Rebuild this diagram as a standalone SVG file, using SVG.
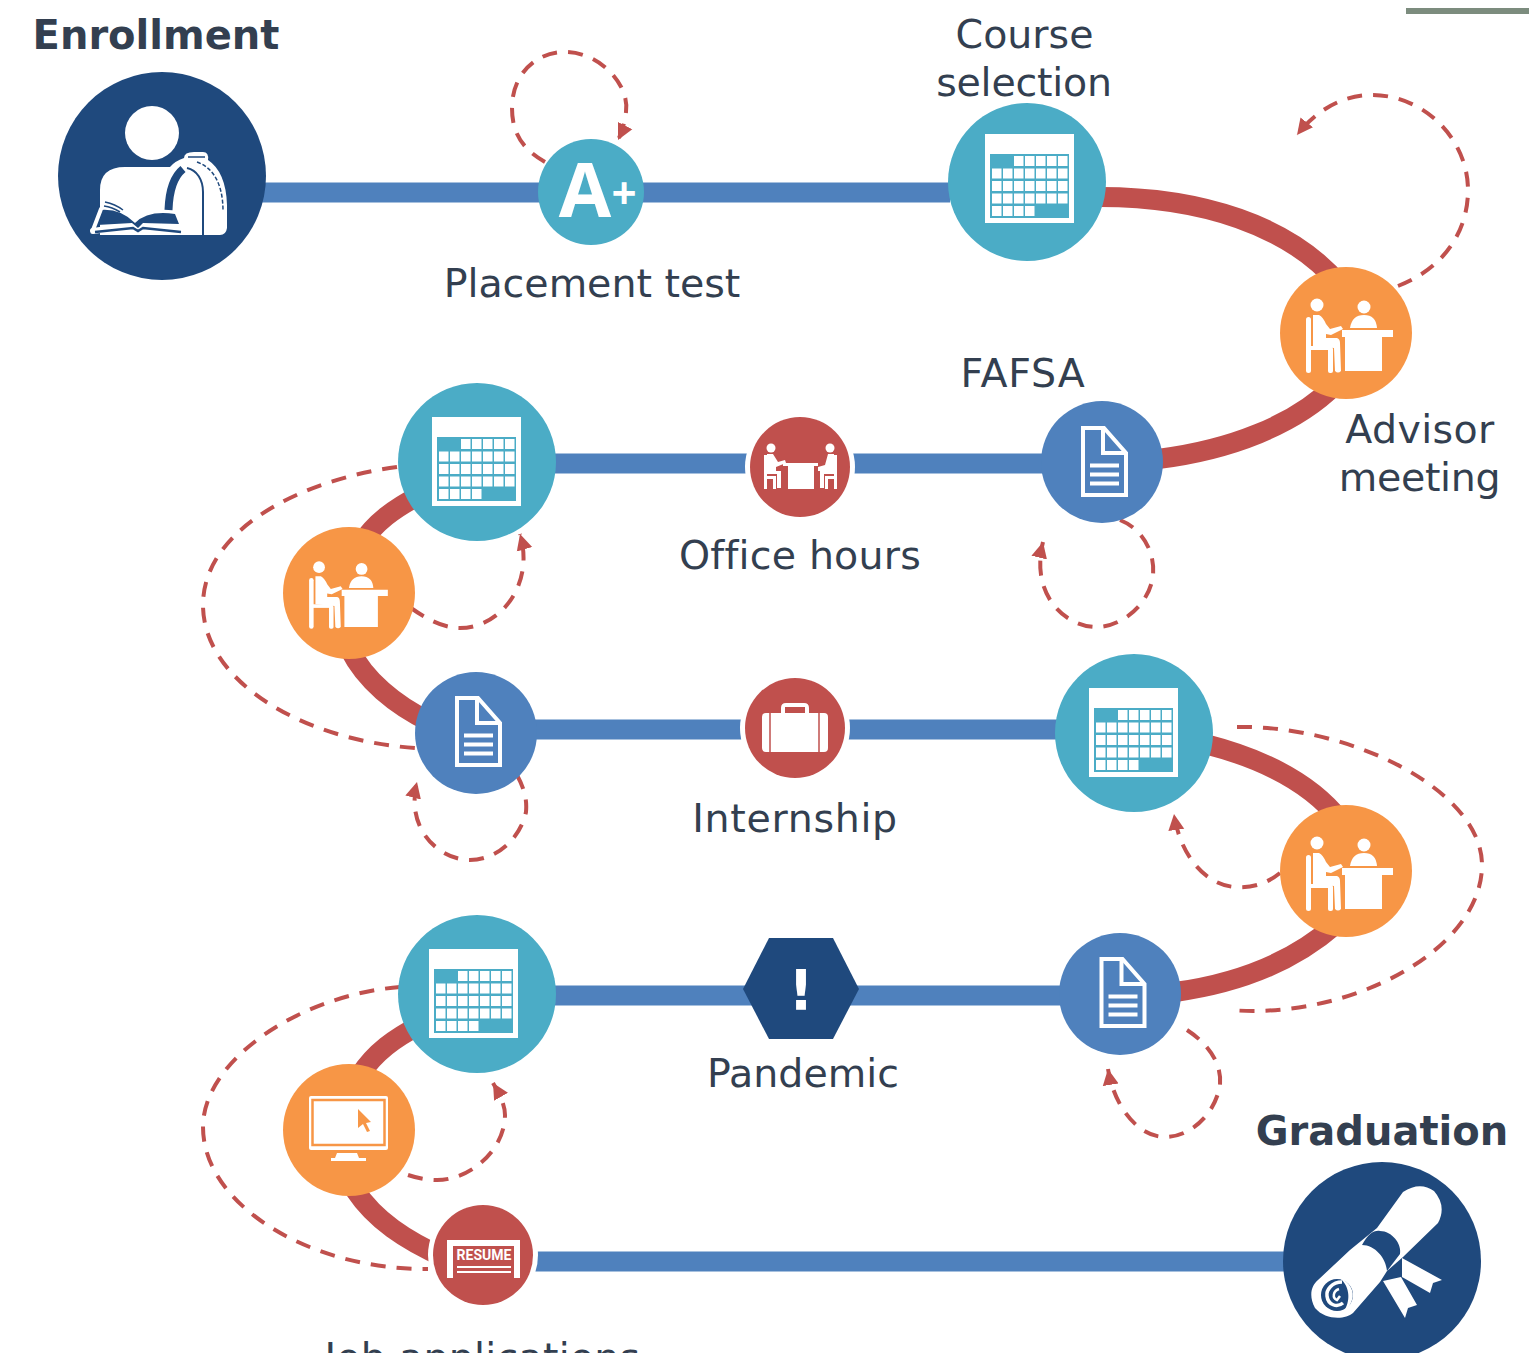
<svg xmlns="http://www.w3.org/2000/svg" width="1529" height="1353" viewBox="0 0 1529 1353">
<style>
text{font-family:"DejaVu Sans",Verdana,sans-serif;font-size:39.5px;fill:#333F50;text-anchor:middle}
.b{font-weight:700;font-size:40px}
.bl{fill:none;stroke:#4F81BD;stroke-width:20}
.rd{fill:none;stroke:#C0504D;stroke-width:20}
.da{fill:none;stroke:#C0504D;stroke-width:4;stroke-dasharray:15 11}
.w{fill:#fff}
.hl{fill:#fff}
.t{fill:#4BACC6}
.o{fill:#F79646}
.n{fill:#4F81BD}
</style>
<defs>
<marker id="ah" markerUnits="userSpaceOnUse" markerWidth="20" markerHeight="20" refX="16" refY="9" orient="auto"><path d="M0,1 L16,9 L0,17 Z" fill="#C0504D"/></marker>
<g id="calI">
<path class="w" d="M-42,-48H47V41H-42Z"/>
<path fill="#4BACC6" d="M-37,-28H42V36H-37Z"/>
<path class="w" d="M-13,-26h9.500v10h-9.500zM-2,-26h9.500v10h-9.500zM9,-26h9.500v10h-9.500zM20,-26h9.500v10h-9.500zM31,-26h9.500v10h-9.500z"/>
<path class="w" d="M-35,-13.500h9.500v10h-9.500zM-24,-13.500h9.500v10h-9.500zM-13,-13.500h9.500v10h-9.500zM-2,-13.500h9.500v10h-9.500zM9,-13.500h9.500v10h-9.500zM20,-13.500h9.500v10h-9.500zM31,-13.500h9.500v10h-9.500z"/>
<path class="w" d="M-35,-1h9.500v10h-9.500zM-24,-1h9.500v10h-9.500zM-13,-1h9.500v10h-9.500zM-2,-1h9.500v10h-9.500zM9,-1h9.500v10h-9.500zM20,-1h9.500v10h-9.500zM31,-1h9.500v10h-9.500z"/>
<path class="w" d="M-35,11.500h9.500v10h-9.500zM-24,11.500h9.500v10h-9.500zM-13,11.500h9.500v10h-9.500zM-2,11.500h9.500v10h-9.500zM9,11.500h9.500v10h-9.500zM20,11.500h9.500v10h-9.500zM31,11.500h9.500v10h-9.500z"/>
<path class="w" d="M-35,24h9.500v10h-9.500zM-24,24h9.500v10h-9.500zM-13,24h9.500v10h-9.500zM-2,24h9.500v10h-9.500z"/>
</g>
<g id="deskI" class="w">
<circle cx="-29" cy="-28" r="6.500"/>
<rect x="-40" y="-16" width="5" height="56" rx="2.500"/>
<rect x="-38" y="13" width="24" height="4"/>
<rect x="-18" y="14" width="5" height="26" rx="2"/>
<path d="M-33,-18L-27,-18Q-23,-16 -20,-9L-16,-4L-5,-7L-3,-4L-15,2L-20,1L-20,5L-9,5Q-6,6 -6,10L-5,38Q-8,41 -11,38L-12,15L-33,13Z"/>
<circle cx="18" cy="-26" r="6.500"/>
<path d="M4,-5Q6,-18 18,-18Q30,-18 31,-5Z"/>
<path d="M-4,-3H47V4H36V38H-1V4H-4Z"/>
</g>
<g id="docI" fill="none" stroke="#fff" stroke-width="4">
<path d="M-19,-34H2L24,-9V33H-19Z"/>
<path d="M1,-33V-9H24"/>
<path d="M-12,3.500H17M-12,12.500H17M-12,21.500H17"/>
</g>
</defs>

<rect x="1406" y="8" width="123" height="6" fill="#7C8C7E"/>

<g id="connectors">
<path class="bl" d="M262,192.500H950"/>
<path class="bl" d="M555,463.500H1045"/>
<path class="bl" d="M535,729.500H1058"/>
<path class="bl" d="M555,995.500H1062"/>
<path class="bl" d="M535,1261.500H1286"/>
<path class="rd" d="M1100,197C1200,197 1290,225 1340,285"/>
<path class="rd" d="M1335,385C1295,425 1230,450 1158,459"/>
<path class="rd" d="M420,495C395,508 375,522 360,545"/>
<path class="rd" d="M350,650C365,680 395,705 430,722"/>
<path class="rd" d="M1205,744C1260,758 1310,782 1340,820"/>
<path class="rd" d="M1335,925C1295,960 1240,983 1175,992"/>
<path class="rd" d="M420,1025C395,1038 375,1052 360,1075"/>
<path class="rd" d="M355,1190C375,1220 405,1240 445,1258"/>
<path class="da" marker-end="url(#ah)" d="M545,162C520,148 512,130 512,108C512,75 535,52 565,52C600,52 630,85 626,112Q624,128 618,140"/>
<path class="da" marker-end="url(#ah)" d="M1398,286C1440,270 1468,235 1468,190C1468,140 1425,95 1372,95C1345,95 1318,108 1297,135"/>
<path class="da" marker-end="url(#ah)" d="M1120,520C1145,530 1155,555 1153,575C1150,605 1120,628 1095,627C1065,626 1030,595 1043,542"/>
<path class="da" d="M397,467C300,480 203,530 203,605C203,680 300,740 415,748"/>
<path class="da" marker-end="url(#ah)" d="M411,608C435,625 450,628 460,628C500,628 535,585 520,534"/>
<path class="da" marker-end="url(#ah)" d="M517,775C525,790 527,800 526,812C520,840 495,860 470,860C440,860 405,830 417,782"/>
<path class="da" d="M1237,727C1350,725 1482,790 1482,865C1482,950 1350,1020 1230,1010"/>
<path class="da" marker-end="url(#ah)" d="M1280,873C1265,885 1250,888 1235,887C1205,885 1180,855 1174,814"/>
<path class="da" marker-end="url(#ah)" d="M1187,1030C1210,1045 1222,1065 1220,1085C1215,1115 1190,1137 1165,1137C1140,1137 1115,1110 1108,1069"/>
<path class="da" d="M400,987C300,995 203,1060 203,1127C203,1205 310,1270 428,1269"/>
<path class="da" marker-end="url(#ah)" d="M408,1175C420,1179 430,1180 437,1180C470,1180 505,1150 505,1115C505,1105 500,1095 493,1083"/>
</g>

<g id="enrollment">
<circle cx="162" cy="176" r="104" fill="#1F497D"/>
<circle cx="152" cy="133" r="27" class="w"/>
<path class="w" d="M100,235V190Q100,167 125,167H170Q175,161 184,158Q184,152 194,152H203Q209,152 208,160Q226,172 227,205V228Q226,235 220,235Z"/>
<path fill="none" stroke="#1F497D" stroke-width="8" d="M183,169C172,178 169,195 168.500,210"/>
<path fill="none" stroke="#1F497D" stroke-width="2" d="M187,168C197,170 203,180 203,192V236"/>
<path fill="none" stroke="#1F497D" stroke-width="1.500" d="M188,157H205"/>
<path fill="none" stroke="#1F497D" stroke-width="1.500" stroke-dasharray="4 2" d="M197,162C214,168 223,185 223,211"/>
<path fill="#1F497D" d="M100,210Q120,208 135,223Q148,210 175,214L179,224L143,223L138,228L132,223L97,225Z"/>
<path fill="none" stroke="#1F497D" stroke-width="1.500" d="M105,202Q115,204 123,210M104,206Q112,207 120,212"/>
<path fill="none" stroke="#fff" stroke-width="4" stroke-linecap="round" d="M101,209L93,230"/>
<path fill="none" stroke="#fff" stroke-width="6" stroke-linecap="round" d="M93,231L100,230"/>
<path fill="none" stroke="#1F497D" stroke-width="2.500" d="M95,232L133,228L138,231L143,228L181,232"/>
</g>

<g id="placement">
<circle cx="591" cy="192" r="53" fill="#4BACC6"/>
<text x="585" y="217" style="font-size:76px;fill:#fff;font-weight:700;font-family:'Open Sans',sans-serif">A</text>
<text x="624" y="209" style="font-size:44px;fill:#fff;font-weight:700;font-family:'Open Sans',sans-serif">+</text>
</g>
<g id="course"><circle cx="1027" cy="182" r="79" class="t"/><use href="#calI" x="1027" y="182"/></g>
<g id="advisor1"><circle cx="1346" cy="333" r="66" class="o"/><use href="#deskI" x="1346" y="333"/></g>
<g id="fafsa"><circle cx="1102" cy="462" r="61" class="n"/><use href="#docI" x="1102" y="462"/></g>
<g id="office">
<circle cx="800" cy="467" r="55" class="hl"/>
<circle cx="800" cy="467" r="50" fill="#C0504D"/>
<g class="w">
<circle cx="771" cy="448" r="4.500"/><circle cx="830" cy="448" r="4.500"/>
<rect x="764" y="455" width="3" height="34"/><rect x="834" y="455" width="3" height="34"/>
<path d="M767,454H773L778,462L785,460L786,463L776,467V471H781V488H777V474H767ZM767,476H776V489H773V479H767Z"/>
<path d="M834,454H828L825,465L818,467V471H820V488H824V474H834ZM834,476H825V489H828V479H834Z"/>
<path d="M783,463H818V466H814V489H788V466H783Z"/>
</g>
</g>
<g id="cal2"><circle cx="477" cy="462" r="79" class="t"/><use href="#calI" x="474" y="465"/></g>
<g id="advisor2"><circle cx="349" cy="593" r="66" class="o"/><use href="#deskI" transform="translate(345.300 592.500) scale(.905)"/></g>
<g id="doc2"><circle cx="476" cy="733" r="61" class="n"/><use href="#docI" x="476" y="732"/></g>
<g id="internship">
<circle cx="795" cy="728" r="55" class="hl"/>
<circle cx="795" cy="728" r="50" fill="#C0504D"/>
<path class="w" fill-rule="evenodd" d="M781,713V708Q781,703 786,703H804Q809,703 809,708V713H824Q828,713 828,717V748Q828,752 824,752H766Q762,752 762,748V717Q762,713 766,713ZM785,713H805V707H785Z"/>
<path fill="none" stroke="#C0504D" stroke-width="1.500" d="M770,713V752M819,713V752"/>
</g>
<g id="cal3"><circle cx="1134" cy="733" r="79" class="t"/><use href="#calI" x="1131" y="736"/></g>
<g id="advisor3"><circle cx="1346" cy="871" r="66" class="o"/><use href="#deskI" x="1346" y="871"/></g>
<g id="doc3"><circle cx="1120" cy="994" r="61" class="n"/><use href="#docI" x="1120.500" y="993"/></g>
<g id="pandemic">
<path fill="#1F497D" d="M743,989L769,938H833L859,989L833,1039H769Z"/>
<text x="801" y="1009" style="font-size:56px;fill:#fff;font-weight:700">!</text>
</g>
<g id="cal4"><circle cx="477" cy="994" r="79" class="t"/><use href="#calI" x="471" y="997"/></g>
<g id="monitor">
<circle cx="349" cy="1130" r="66" class="o"/>
<rect x="309" y="1096" width="79" height="54" rx="2" class="w"/>
<rect x="312.500" y="1100" width="72" height="45" fill="none" stroke="#F79646" stroke-width="2.500"/>
<path fill="#F79646" d="M358,1109L371,1122L366,1123L370,1131L367,1132L363,1124L358,1128Z"/>
<path class="w" d="M337,1153H357L359,1158H366V1161H331V1158H335Z"/>
</g>
<g id="resume">
<circle cx="483" cy="1255" r="55" class="hl"/>
<circle cx="483" cy="1255" r="50" fill="#C0504D"/>
<path class="w" d="M447,1240H520V1278H514V1246H453V1278H447Z"/>
<text x="484" y="1260" style="font-size:14px;fill:#fff;font-weight:700;font-family:Roboto,sans-serif">RESUME</text>
<path fill="none" stroke="#fff" stroke-width="2" d="M457,1267H511M457,1272H511"/>
</g>
<g id="graduation">
<circle cx="1382" cy="1261" r="99" fill="#1F497D"/>
<path class="w" d="M1403,1192Q1420,1181 1434,1191Q1447,1206 1438,1223L1403,1257L1387,1271L1380,1282L1353,1313C1345,1320 1325,1320 1315,1308C1308,1295 1312,1285 1318,1280L1350,1250L1377,1228Z"/>
<path class="w" d="M1402,1258L1442,1280L1433,1283L1430,1293L1402,1277ZM1383,1281L1401,1277L1417,1305L1408,1308L1405,1318Z"/>
<path fill="#1F497D" d="M1362,1245C1375,1245 1386,1258 1387,1271L1400,1254C1402,1244 1392,1231 1380,1231C1374,1230 1368,1234 1362,1245Z"/>
<circle cx="1337" cy="1295" r="16" fill="#1F497D"/>
<path fill="none" stroke="#fff" stroke-width="3.500" d="M1342,1282C1332,1282 1326,1290 1327,1296C1328,1305 1337,1308 1343,1303"/>
<path fill="none" stroke="#fff" stroke-width="2.500" d="M1339,1289C1333,1291 1332,1298 1337,1300L1340,1296"/>
<path class="w" d="M1340,1278C1350,1282 1355,1292 1352,1300C1350,1306 1347,1309 1344,1311C1350,1302 1351,1288 1340,1278Z"/>
</g>

<g id="labels">
<text class="b" x="156" y="49">Enrollment</text>
<text x="1024.500" y="48">Course</text>
<text x="1024" y="96" style="letter-spacing:-.2px">selection</text>
<text x="592" y="297">Placement test</text>
<text x="1023" y="387" style="letter-spacing:.8px">FAFSA</text>
<text x="1420" y="443" style="letter-spacing:.4px">Advisor</text>
<text x="1419.500" y="491" style="letter-spacing:-.3px">meeting</text>
<text x="800" y="569" style="letter-spacing:.2px">Office hours</text>
<text x="795" y="832" style="letter-spacing:.7px">Internship</text>
<text x="803" y="1087">Pandemic</text>
<text x="482.500" y="1371" style="letter-spacing:.25px">Job applications</text>
<text class="b" x="1382" y="1145">Graduation</text>
</g>
</svg>
